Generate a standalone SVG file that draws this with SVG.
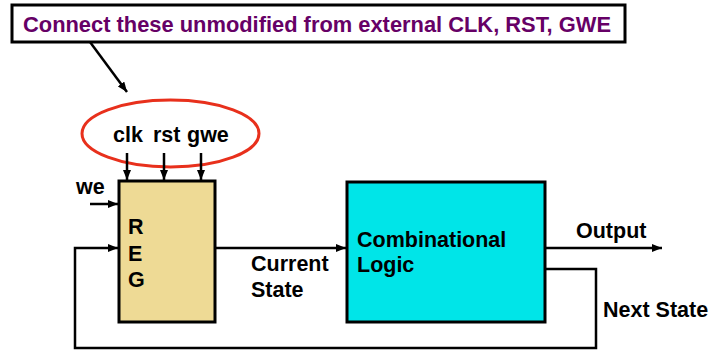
<svg xmlns="http://www.w3.org/2000/svg" width="711" height="350" viewBox="0 0 711 350">
  <style>
    text { font-family: "Liberation Sans", Arial, sans-serif; font-weight: bold; font-size: 21.5px; fill: #000; }
    .note { fill: #660066; font-size: 22px; }
    .wire { fill: none; stroke: #000; stroke-width: 2.5; }
    .box { stroke: #000; stroke-width: 3; }
  </style>
  <defs>
    <marker id="arrow" viewBox="0 0 10 8" refX="10" refY="4" markerWidth="10" markerHeight="8" markerUnits="userSpaceOnUse" orient="auto">
      <path d="M0,0 L10,4 L0,8 Z" fill="#000"/>
    </marker>
  </defs>

  <rect width="711" height="350" fill="#fff"/>

  <!-- callout note -->
  <g id="note">
    <rect x="12" y="5" width="613" height="37" fill="#fff" class="box"/>
    <text class="note" x="23" y="32" textLength="588" lengthAdjust="spacingAndGlyphs">Connect these unmodified from external CLK, RST, GWE</text>
  </g>

  <!-- highlighted global signals -->
  <g id="globals">
    <ellipse cx="170.5" cy="133.5" rx="88.5" ry="33.5" fill="none" stroke="#E8301C" stroke-width="3"/>
    <text x="113" y="142">clk</text>
    <text x="153" y="142">rst</text>
    <text x="187" y="142">gwe</text>
  </g>

  <!-- state register -->
  <g id="reg">
    <rect x="119" y="181" width="96" height="141" fill="#EEDA95" class="box"/>
    <text x="128" y="234">R</text>
    <text x="128" y="261">E</text>
    <text x="128" y="287">G</text>
  </g>

  <g id="we">
    <text x="76" y="194">we</text>
  </g>

  <!-- combinational logic block -->
  <g id="logic">
    <rect x="347" y="182" width="198" height="140" fill="#00E5E8" class="box"/>
    <text x="357" y="247">Combinational</text>
    <text x="357" y="272">Logic</text>
  </g>

  <!-- wires -->
  <g id="connectors">
    <line class="wire" x1="90" y1="42" x2="127" y2="92" marker-end="url(#arrow)"/>
    <line class="wire" x1="127" y1="153" x2="127" y2="180" marker-end="url(#arrow)"/>
    <line class="wire" x1="164" y1="153" x2="164" y2="180" marker-end="url(#arrow)"/>
    <line class="wire" x1="201" y1="153" x2="201" y2="180" marker-end="url(#arrow)"/>
    <line class="wire" x1="90" y1="204" x2="118" y2="204" marker-end="url(#arrow)"/>
    <line class="wire" x1="215" y1="248" x2="346" y2="248" marker-end="url(#arrow)"/>
    <line class="wire" x1="545" y1="248" x2="662" y2="248" marker-end="url(#arrow)"/>
    <polyline class="wire" points="545,269 596,269 596,348 75,348 75,248 118,248" marker-end="url(#arrow)"/>
  </g>

  <!-- wire labels -->
  <g id="labels">
    <text x="251" y="271">Current</text>
    <text x="251" y="297">State</text>
    <text x="576" y="238">Output</text>
    <text x="603" y="317">Next State</text>
  </g>
</svg>
